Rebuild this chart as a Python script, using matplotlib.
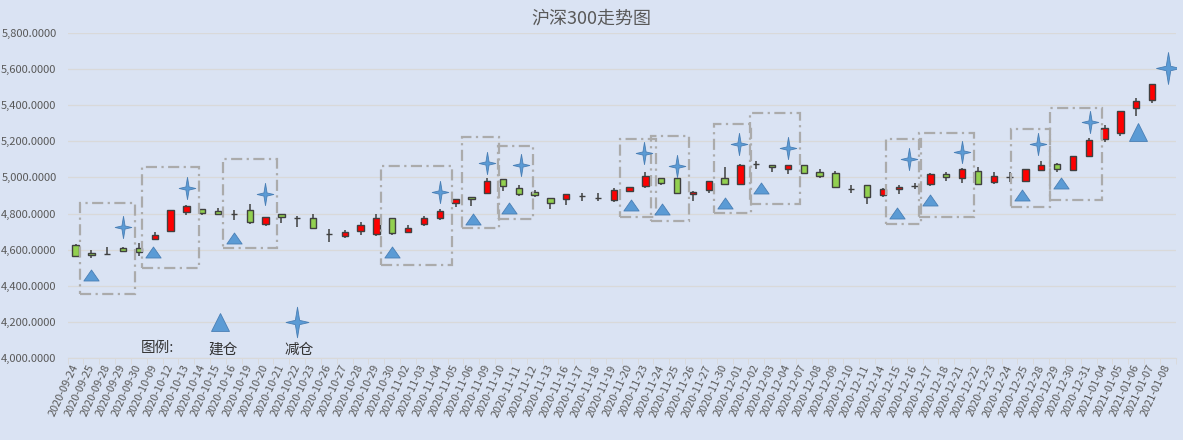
import matplotlib
matplotlib.use('Agg')
import matplotlib.pyplot as plt
from matplotlib.path import Path
from matplotlib.patches import Rectangle
from matplotlib.ticker import FuncFormatter
import numpy as np

plt.rcParams['font.family'] = ['Noto Sans CJK SC', 'DejaVu Sans']

# trading days (category axis)
dates = [
    '2020-09-24', '2020-09-25', '2020-09-28', '2020-09-29', '2020-09-30', '2020-10-09', '2020-10-12',
    '2020-10-13', '2020-10-14', '2020-10-15', '2020-10-16', '2020-10-19', '2020-10-20', '2020-10-21',
    '2020-10-22', '2020-10-23', '2020-10-26', '2020-10-27', '2020-10-28', '2020-10-29', '2020-10-30',
    '2020-11-02', '2020-11-03', '2020-11-04', '2020-11-05', '2020-11-06', '2020-11-09', '2020-11-10',
    '2020-11-11', '2020-11-12', '2020-11-13', '2020-11-16', '2020-11-17', '2020-11-18', '2020-11-19',
    '2020-11-20', '2020-11-23', '2020-11-24', '2020-11-25', '2020-11-26', '2020-11-27', '2020-11-30',
    '2020-12-01', '2020-12-02', '2020-12-03', '2020-12-04', '2020-12-07', '2020-12-08', '2020-12-09',
    '2020-12-10', '2020-12-11', '2020-12-14', '2020-12-15', '2020-12-16', '2020-12-17', '2020-12-18',
    '2020-12-21', '2020-12-22', '2020-12-23', '2020-12-24', '2020-12-25', '2020-12-28', '2020-12-29',
    '2020-12-30', '2020-12-31', '2021-01-04', '2021-01-05', '2021-01-06', '2021-01-07', '2021-01-08',
]

# OHLC (last day has no candle)
opens = [4625, 4582, 4578, 4609, 4609, 4662, 4702, 4809, 4827, 4813, 4795, 4822, 4744, 4796,
         4776, 4773, 4687, 4678, 4702, 4685, 4773, 4700, 4740, 4776, 4860, 4893, 4915, 4991,
         4939, 4919, 4884, 4879, 4899, 4888, 4875, 4926, 4954, 4994, 4994, 4906, 4928, 4994,
         4961, 5072, 5066, 5048, 5066, 5028, 5022, 4936, 4956, 4901, 4934, 4954, 4961, 5017,
         4994, 5033, 4976, 5004, 4982, 5042, 5072, 5039, 5119, 5211, 5246, 5384, 5426, np.nan]
highs = [4633, 4598, 4615, 4613, 4636, 4698, 4822, 4845, 4827, 4833, 4822, 4853, 4782, 4796,
         4789, 4800, 4713, 4707, 4753, 4800, 4773, 4736, 4789, 4824, 4882, 4893, 4995, 4991,
         4956, 4930, 4884, 4906, 4912, 4912, 4939, 4945, 5028, 4994, 4994, 4925, 4980, 5055,
         5074, 5090, 5066, 5066, 5066, 5044, 5033, 4960, 4956, 4941, 4958, 4967, 5024, 5028,
         5053, 5057, 5028, 5031, 5044, 5090, 5079, 5116, 5215, 5288, 5369, 5437, 5514, np.nan]
lows = [4564, 4553, 4571, 4585, 4565, 4655, 4702, 4794, 4794, 4795, 4767, 4745, 4733, 4749,
        4724, 4718, 4642, 4667, 4684, 4678, 4684, 4695, 4731, 4765, 4836, 4844, 4915, 4924,
        4897, 4890, 4823, 4849, 4868, 4871, 4866, 4919, 4939, 4960, 4912, 4868, 4915, 4961,
        4961, 5044, 5031, 5017, 5017, 4998, 4945, 4915, 4851, 4890, 4906, 4937, 4952, 4980,
        4971, 4958, 4965, 4976, 4972, 5037, 5031, 5039, 5119, 5193, 5229, 5339, 5413, np.nan]
closes = [4564, 4569, 4578, 4593, 4585, 4680, 4822, 4840, 4805, 4795, 4795, 4755, 4782, 4782,
          4776, 4718, 4687, 4696, 4735, 4773, 4695, 4718, 4778, 4813, 4882, 4882, 4980, 4953,
          4906, 4904, 4856, 4906, 4899, 4888, 4930, 4945, 5006, 4971, 4912, 4917, 4980, 4961,
          5068, 5072, 5055, 5066, 5022, 5009, 4945, 4936, 4890, 4934, 4945, 4954, 5017, 5000,
          5044, 4963, 5007, 5004, 5044, 5068, 5044, 5116, 5209, 5270, 5369, 5420, 5514, np.nan]

# 建仓 (build) and 减仓 (reduce) signals, x in category units
build_x = [1, 4.9, 10, 20, 25.1, 27.4, 35.1, 37.05, 41, 43.3, 51.9, 54, 59.8, 62.25, 67.1]
build_y = [4461, 4590, 4667, 4590, 4769, 4831, 4849, 4824, 4857, 4943, 4802, 4875, 4903, 4967, 5251]
reduce_x = [3, 7.05, 11.95, 23, 25.97, 28.15, 35.9, 38, 41.9, 45, 52.65, 56, 60.8, 64.07, 69]
reduce_y = [4724, 4940, 4907, 4921, 5078, 5068, 5137, 5063, 5183, 5164, 5102, 5139, 5185, 5304, 5606]

# dashed frames around each build/reduce pair
frame_low = [4356, 4498, 4608, 4516, 4719, 4770, 4780, 4759, 4802, 4853, 4741, 4783, 4838, 4875]
frame_high = [4860, 5056, 5102, 5063, 5223, 5173, 5212, 5230, 5295, 5354, 5212, 5244, 5266, 5382]

BG = '#DAE3F3'
EDGE = '#404040'
MARK = '#5B9BD5'
MARK_EDGE = '#4A7FB5'

star4 = Path([(0, 1), (0.14, 0.14), (0.75, 0), (0.14, -0.14), (0, -1), (-0.14, -0.14),
              (-0.75, 0), (-0.14, 0.14), (0, 1)],
             [Path.MOVETO] + [Path.LINETO] * 7 + [Path.CLOSEPOLY])
tri_flat = Path([(0, 0.72), (1, -0.72), (-1, -0.72), (0, 0.72)],
                [Path.MOVETO, Path.LINETO, Path.LINETO, Path.CLOSEPOLY])

fig = plt.figure(figsize=(11.83, 4.40), dpi=100, facecolor=BG)
ax = fig.add_axes([0.0572, 0.1855, 0.9367, 0.7405], facecolor=BG)

x = np.arange(len(dates))
o = np.array(opens, float)
h = np.array(highs, float)
l = np.array(lows, float)
c = np.array(closes, float)
ok = ~np.isnan(o)

ax.vlines(x[ok], l[ok], h[ok], color=EDGE, lw=1.1, zorder=2)
body_colors = ['#FF0000' if cc > oo else '#92D050' for oo, cc in zip(o[ok], c[ok])]
ax.bar(x[ok], np.abs(c[ok] - o[ok]), bottom=np.minimum(o[ok], c[ok]), width=0.4,
       color=body_colors, edgecolor=EDGE, linewidth=1.0, zorder=3)

for i in range(len(frame_low)):
    x0 = build_x[i] - 0.7
    x1 = reduce_x[i] + 0.75
    ax.add_patch(Rectangle((x0, frame_low[i]), x1 - x0, frame_high[i] - frame_low[i],
                           fill=False, ec='#ABABAB', lw=1.6, ls=(0, (5, 2, 1, 2)), zorder=4))

mk = dict(ls='none', mfc=MARK, mec=MARK_EDGE, mew=0.6, zorder=5)
ax.plot(build_x[:-1], build_y[:-1], marker=tri_flat, ms=11, **mk)
ax.plot(build_x[-1:], build_y[-1:], marker='^', ms=13.3, **mk)
ax.plot(reduce_x[:-1], reduce_y[:-1], marker=star4, ms=16, **mk)
ax.plot(reduce_x[-1:], reduce_y[-1:], marker=star4, ms=23, **mk)

# legend drawn inside the plot
ax.plot([9.12], [4201], marker='^', ms=13.3, **mk)
ax.plot([13.99], [4201], marker=star4, ms=22, **mk)
ax.text(5.2, 4057, '图例:', ha='center', va='center', fontsize=10.5, color='#333333')
ax.text(9.3, 4046, '建仓', ha='center', va='center', fontsize=10.5, color='#333333')
ax.text(14.1, 4046, '减仓', ha='center', va='center', fontsize=10.5, color='#333333')

ax.set_xlim(-0.5, len(dates) - 0.5)
ax.set_ylim(4000, 5800)
ax.set_yticks(np.arange(4000, 5801, 200))
ax.yaxis.set_major_formatter(FuncFormatter(lambda v, p: f'{v:,.4f}'))
ax.grid(axis='y', color='#D9D9D9', lw=0.9)
ax.set_axisbelow(True)

ax.set_xticks(x)
ax.set_xticklabels(dates, rotation=65, ha='right', va='center', rotation_mode='anchor')
ax.set_xticks(np.arange(len(dates) + 1) - 0.5, minor=True)
ax.tick_params(axis='x', which='major', length=0, pad=5, labelsize=7.9, labelcolor='#595959')
ax.tick_params(axis='x', which='minor', length=4, color='#D9D9D9')
ax.tick_params(axis='y', length=0, pad=8, labelsize=8, labelcolor='#595959')

for side in ['top', 'right', 'left']:
    ax.spines[side].set_visible(False)
ax.spines['bottom'].set_color('#D9D9D9')

fig.text(0.5, 0.958, '沪深300走势图', ha='center', va='center', fontsize=13, color='#595959')

fig.savefig('out.png', dpi=100, facecolor=BG)
